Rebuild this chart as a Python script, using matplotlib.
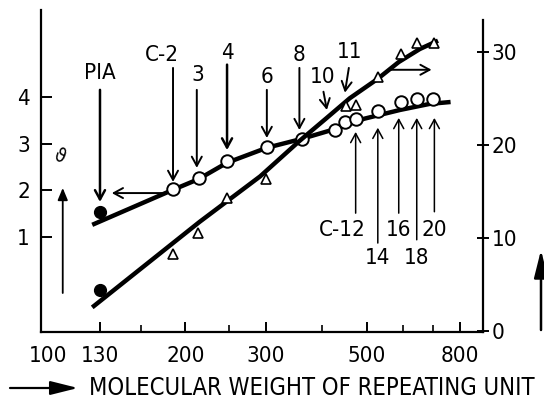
import numpy as np
import matplotlib
matplotlib.use('Agg')
import matplotlib.pyplot as plt
from matplotlib.ticker import FixedLocator, NullFormatter

plt.rcParams['font.family'] = ['DejaVu Sans']
plt.rcParams['font.stretch'] = 'condensed'

# ---------------- data ----------------
# open circles: theta (left axis) vs molecular weight of repeating unit
circ_mw = [188, 214, 247, 302, 360, 426, 448, 473, 529, 594, 644, 700]
circ_theta = [2.03, 2.27, 2.62, 2.93, 3.10, 3.29, 3.46, 3.53, 3.70, 3.89, 3.96, 3.95]
# PIA (filled circles)
pia_mw = [130]
pia_theta = [1.54]
pia_right = [4.4]
# open triangles: right axis
tri_mw = [188, 213, 247, 300, 451, 474, 530, 596, 644, 704]
tri_val = [8.2, 10.5, 14.3, 16.3, 24.2, 24.3, 27.3, 29.8, 30.9, 30.9]
# hand-drawn fitted curves
theta_curve_mw = [125, 188, 214, 247, 302, 360, 426, 493, 592, 688, 764]
theta_curve = [1.26, 2.01, 2.24, 2.59, 2.91, 3.10, 3.31, 3.53, 3.72, 3.85, 3.89]
right_curve_mw = [125, 215, 292, 356, 409, 459, 529, 588, 654, 717]
right_curve = [2.5, 11.7, 16.6, 20.4, 22.9, 25.0, 27.1, 28.9, 30.3, 31.2]

x_ticks = [100, 130, 200, 300, 500, 800]
x_minor = [160, 250, 400, 600, 700]
left_ticks = [1, 2, 3, 4]
right_ticks = [0, 10, 20, 30]

# ---------------- figure ----------------
fig = plt.figure(figsize=(5.44, 4.03), dpi=100)
W, H = 544, 403
ax = fig.add_axes([41 / W, 71 / H, 442 / W, 322 / H])
ax2 = ax.twinx()

ax.set_xscale('log')
ax.set_xlim(96.5, 900)
ax.set_ylim(-1.035, 5.86)
ax2.set_ylim(-0.15, 34.5)

FS = 16
# spines
for s in ['top', 'right']:
    ax.spines[s].set_visible(False)
for s in ['top', 'left', 'bottom']:
    ax2.spines[s].set_visible(False)
ax.spines['left'].set_linewidth(1.6)
ax.spines['bottom'].set_linewidth(1.6)
ax2.spines['right'].set_linewidth(1.6)
ax2.spines['right'].set_bounds(-0.15, 33.4)

# ticks
ax.xaxis.set_major_locator(FixedLocator(x_ticks))
ax.xaxis.set_minor_locator(FixedLocator(x_minor))
ax.xaxis.set_major_formatter(plt.FixedFormatter([str(t) for t in x_ticks]))
ax.xaxis.set_minor_formatter(NullFormatter())
ax.tick_params(axis='x', which='major', direction='in', length=7, width=1.4,
               labelsize=FS, pad=10)
ax.tick_params(axis='x', which='minor', direction='in', length=5, width=1.2)
ax.xaxis.get_major_ticks()[0].tick1line.set_visible(False)
ax.set_yticks(left_ticks)
ax.set_yticklabels([str(t) for t in left_ticks])
ax.tick_params(axis='y', direction='in', length=8, width=1.4, labelsize=FS, pad=8)
ax2.set_yticks(right_ticks)
ax2.set_yticklabels([str(t) for t in right_ticks])
ax2.tick_params(axis='y', direction='inout', length=8, width=1.4, labelsize=FS, pad=2)

# curves and points
ax.plot(theta_curve_mw, theta_curve, color='black', lw=3.2, solid_capstyle='butt',
        solid_joinstyle='round', zorder=2)
ax.plot(circ_mw, circ_theta, 'o', ms=9, mfc='white', mec='black', mew=1.4, zorder=3)
ax.plot(pia_mw, pia_theta, 'o', ms=8.5, color='black', zorder=3)
ax2.plot(right_curve_mw, right_curve, color='black', lw=3.2, solid_capstyle='butt',
         solid_joinstyle='round', zorder=2)
ax2.plot(tri_mw, tri_val, '^', ms=6.5, mfc='white', mec='black', mew=1.2, zorder=3)
ax2.plot(pia_mw, pia_right, 'o', ms=8.5, color='black', zorder=3)

# ---------------- annotations ----------------
aprops = dict(arrowstyle='->,head_length=0.55,head_width=0.3', lw=1.4,
              color='black', shrinkA=0, shrinkB=0, mutation_scale=12)

def arrow(x0, y0, x1, y1, **kw):
    p = dict(aprops)
    p.update(kw)
    ax.annotate('', xy=(x1, y1), xytext=(x0, y0), arrowprops=p)

def label(x, y, s, fs=FS, **kw):
    ax.text(x, y, s, ha='center', va='center', fontsize=fs, **kw)

# labels with downward arrows
label(130, 4.51, 'PIA')
arrow(130, 4.15, 130, 1.75, lw=1.8)
label(178, 4.90, 'C-2')
arrow(188, 4.62, 188, 2.18)
label(213, 4.47, '3')
arrow(212, 4.15, 212, 2.48)
label(248, 4.94, '4')
arrow(247, 4.69, 247, 2.86, lw=1.8)
label(302, 4.43, '6')
arrow(302, 4.15, 302, 3.12)
label(356, 4.90, '8')
arrow(356, 4.62, 356, 3.29)
label(400, 4.43, '10')
arrow(402, 4.11, 409, 3.72)
label(459, 4.96, '11')
arrow(457, 4.62, 448, 4.09)

# axis-pointing arrows
arrow(178, 1.94, 138, 1.94)
arrow(561, 4.58, 694, 4.58)

# labels with upward arrows
label(441, 1.15, 'C-12')
arrow(473, 1.51, 473, 3.25, lw=1.1)
label(529, 0.55, '14')
arrow(529, 0.87, 529, 3.34, lw=1.1)
label(588, 1.15, '16')
arrow(588, 1.51, 588, 3.55, lw=1.1)
label(644, 0.55, '18')
arrow(644, 0.94, 644, 3.55, lw=1.1)
label(704, 1.15, '20')
arrow(704, 1.54, 704, 3.55, lw=1.1)

# left axis symbol and arrow
ax.text(106, 2.71, 'ϑ', ha='center', va='center', fontsize=14, rotation=-20)
arrow(107.7, -0.20, 107.7, 2.05, arrowstyle='-|>,head_length=0.6,head_width=0.25', lw=1.3)

# x-axis title with arrow
fig.text(89 / W, (H - 388) / H, 'MOLECULAR WEIGHT OF REPEATING UNIT',
         ha='left', va='center', fontsize=17)
ax.annotate('', xy=(78, H - 388), xytext=(10, H - 388), xycoords='figure pixels',
            textcoords='figure pixels',
            arrowprops=dict(arrowstyle='-|>,head_length=1.4,head_width=0.35',
                            lw=1.6, color='black', shrinkA=0, shrinkB=0,
                            mutation_scale=12))
# cut-off right axis title (arrow at image edge)
ax.annotate('', xy=(541, H - 250), xytext=(541, H - 330), xycoords='figure pixels',
            textcoords='figure pixels', annotation_clip=False,
            arrowprops=dict(arrowstyle='-|>,head_length=1.4,head_width=0.35',
                            lw=1.8, color='black', shrinkA=0, shrinkB=0,
                            mutation_scale=12))

fig.savefig('out.png', dpi=100)
